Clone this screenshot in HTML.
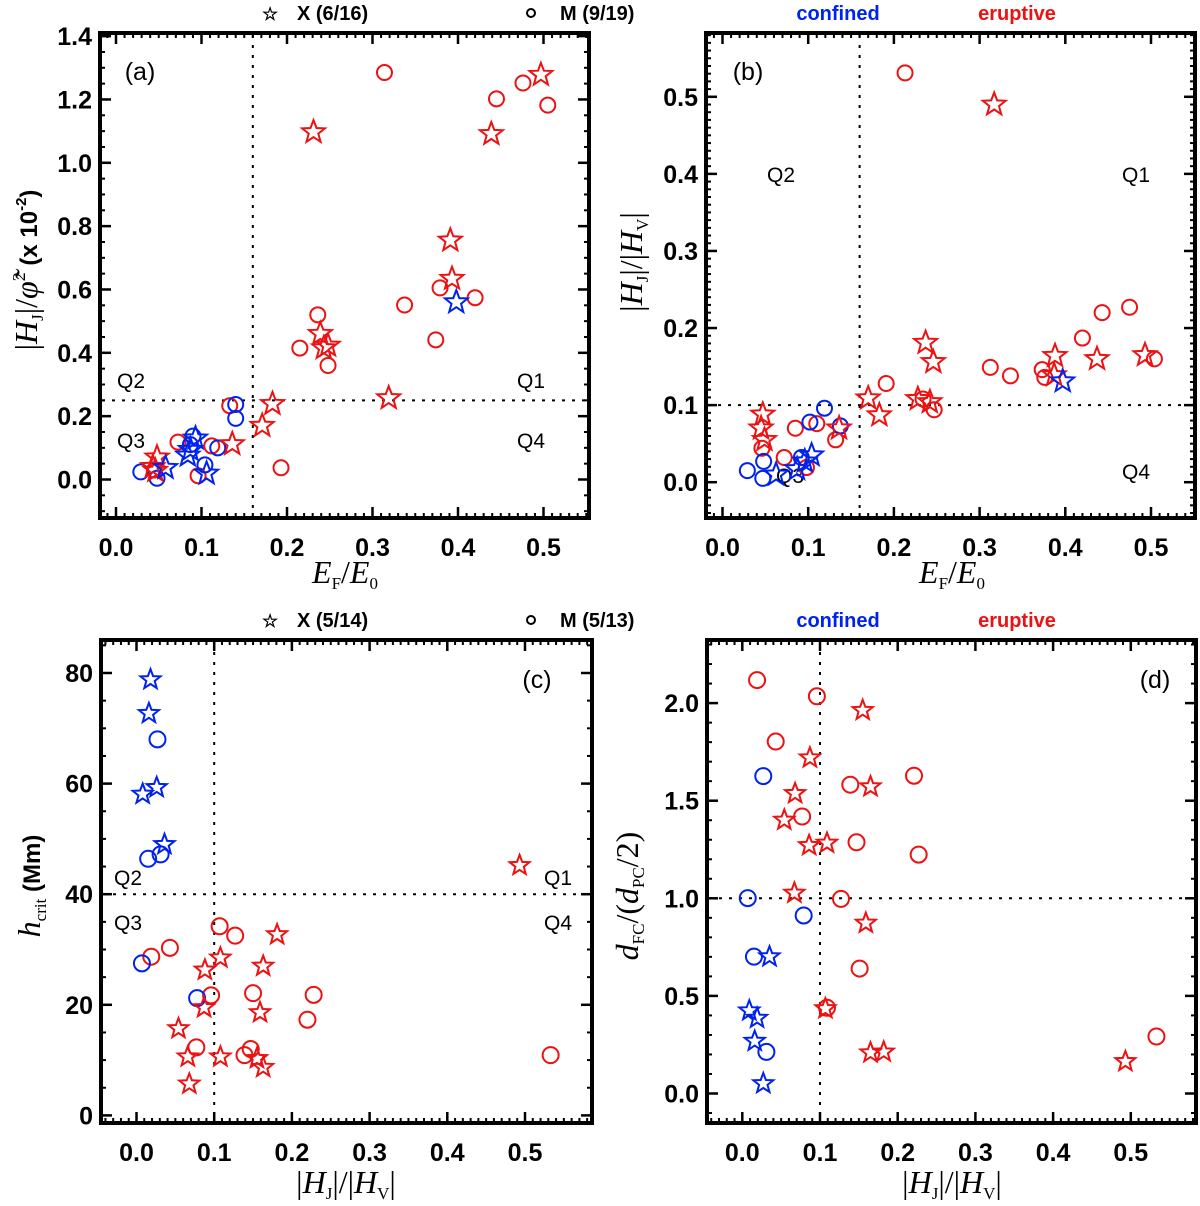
<!DOCTYPE html>
<html><head><meta charset="utf-8"><style>
html,body{margin:0;padding:0;background:#fff;}
svg{display:block;font-family:"Liberation Sans",sans-serif;}
</style></head><body>
<svg id="fig" width="1200" height="1206" viewBox="0 0 1200 1206" xmlns="http://www.w3.org/2000/svg">
<g font-weight="bold" font-size="20">
 <text x="262" y="20" font-size="18">☆</text>
 <text x="297" y="20">X (6/16)</text>
 <circle cx="531" cy="13" r="4" fill="none" stroke="#000" stroke-width="2"/>
 <text x="560" y="20">M (9/19)</text>
 <text x="838" y="20" fill="#0022ee" text-anchor="middle">confined</text>
 <text x="1017" y="20" fill="#ee1111" text-anchor="middle">eruptive</text>
</g>
<g font-weight="bold" font-size="20">
 <text x="262" y="627" font-size="18">☆</text>
 <text x="297" y="627">X (5/14)</text>
 <circle cx="531" cy="620" r="4" fill="none" stroke="#000" stroke-width="2"/>
 <text x="560" y="627">M (5/13)</text>
 <text x="838" y="627" fill="#0022ee" text-anchor="middle">confined</text>
 <text x="1017" y="627" fill="#ee1111" text-anchor="middle">eruptive</text>
</g>
</svg>
<script>
// ---------- Panel (a) data: x = E_F/E0, y = |HJ|/phi^2 (x1e-2)
const aRedCircX=[0.314,0.445,0.476,0.505,0.42,0.379,0.3375,0.374,0.236,0.215,0.248,0.193,0.133,0.112,0.0725,0.096,0.045];
const aRedCircY=[1.285,1.202,1.252,1.182,0.574,0.605,0.551,0.441,0.52,0.415,0.36,0.037,0.233,0.106,0.118,0.012,0.03];
const aRedStarX=[0.231,0.439,0.497,0.391,0.393,0.319,0.239,0.243,0.248,0.183,0.171,0.136,0.048,0.043,0.046];
const aRedStarY=[1.097,1.091,1.278,0.755,0.634,0.257,0.46,0.415,0.423,0.239,0.17,0.112,0.07,0.04,0.028];
const aBlueStarX=[0.398,0.093,0.087,0.084,0.106,0.058];
const aBlueStarY=[0.56,0.13,0.094,0.076,0.019,0.037];
const aBlueCircX=[0.14,0.14,0.119,0.104,0.029,0.048,0.09,0.087];
const aBlueCircY=[0.237,0.193,0.1,0.046,0.024,0.004,0.137,0.11];
// ---------- Panel (b) data: x = E_F/E0, y = |HJ|/|HV|
const bRedCircX=[0.213,0.475,0.443,0.42,0.3125,0.336,0.373,0.376,0.504,0.191,0.247,0.234,0.085,0.11,0.132,0.046,0.072,0.098];
const bRedCircY=[0.531,0.227,0.22,0.187,0.149,0.138,0.146,0.136,0.16,0.128,0.094,0.108,0.07,0.076,0.055,0.044,0.032,0.019];
const bRedStarX=[0.317,0.237,0.246,0.388,0.437,0.493,0.387,0.17,0.183,0.228,0.242,0.047,0.045,0.049,0.136];
const bRedStarY=[0.49,0.181,0.156,0.164,0.16,0.165,0.139,0.109,0.087,0.108,0.104,0.088,0.07,0.055,0.07];
const bBlueStarX=[0.397,0.104,0.096,0.087,0.0625];
const bBlueStarY=[0.131,0.035,0.027,0.017,0.01];
const bBlueCircX=[0.119,0.102,0.1375,0.092,0.048,0.029,0.047];
const bBlueCircY=[0.096,0.078,0.073,0.032,0.027,0.015,0.005];
// ---------- Panel (c) data: x = |HJ|/|HV|, y = h_crit (Mm)
const cBlueStarX=[0.018,0.016,0.008,0.026,0.036];
const cBlueStarY=[78.8,72.7,58.1,59.3,49.0];
const cBlueCircX=[0.027,0.015,0.031,0.007,0.078];
const cBlueCircY=[68.0,46.4,47.2,27.5,21.2];
const cRedStarX=[0.493,0.181,0.108,0.088,0.163,0.087,0.159,0.054,0.066,0.108,0.155,0.163,0.068];
const cRedStarY=[45.2,32.7,28.5,26.3,27.0,19.5,18.6,15.7,10.6,10.6,10.3,8.7,5.7];
const cRedCircX=[0.107,0.127,0.043,0.019,0.096,0.15,0.228,0.22,0.077,0.139,0.147,0.533];
const cRedCircY=[34.2,32.5,30.3,28.7,21.7,22.1,21.8,17.3,12.3,10.9,12.0,10.9];
// ---------- Panel (d) data: x = |HJ|/|HV|, y = d_FC/(d_PC/2)
const dRedCircX=[0.019,0.096,0.043,0.221,0.139,0.077,0.147,0.227,0.127,0.151,0.109,0.533];
const dRedCircY=[2.118,2.035,1.803,1.628,1.582,1.419,1.287,1.224,0.997,0.64,0.439,0.292];
const dRedStarX=[0.155,0.087,0.165,0.068,0.054,0.086,0.109,0.067,0.159,0.107,0.165,0.182,0.493];
const dRedStarY=[1.963,1.72,1.572,1.537,1.401,1.271,1.283,1.027,0.873,0.435,0.209,0.213,0.164];
const dBlueCircX=[0.007,0.027,0.079,0.015,0.031];
const dBlueCircY=[1.001,1.626,0.912,0.701,0.213];
const dBlueStarX=[0.035,0.009,0.019,0.016,0.027];
const dBlueStarY=[0.701,0.424,0.386,0.268,0.051];
// tick labels
const xTicksTop=[0.0,0.1,0.2,0.3,0.4,0.5];
const yTicksA=[0.0,0.2,0.4,0.6,0.8,1.0,1.2,1.4];
const yTicksB=[0.0,0.1,0.2,0.3,0.4,0.5];
const xTicksBot=[0.0,0.1,0.2,0.3,0.4,0.5];
const yTicksC=[0,20,40,60,80];
const yTicksD=[0.0,0.5,1.0,1.5,2.0];

const NS="http://www.w3.org/2000/svg";
const svg=document.getElementById('fig');
const RED="#ee1111", BLUE="#0022ee";
function mk(tag,attrs,parent){const e=document.createElementNS(NS,tag);for(const k in attrs)e.setAttribute(k,attrs[k]);(parent||svg).appendChild(e);return e;}
function starPts(cx,cy,R){const r=R*0.42;let p=[];for(let i=0;i<10;i++){const a=-Math.PI/2+i*Math.PI/5;const rr=i%2?r:R;p.push((cx+rr*Math.cos(a)).toFixed(1)+","+(cy+rr*Math.sin(a)).toFixed(1));}return p.join(" ");}

function panel(P){
  const g=mk('g',{});
  
  
  const X=v=>P.x0+v*P.xs, Y=v=>P.y0-v*P.ys;
  // minor ticks
  const minor=(vals,isX)=>{vals.forEach(v=>{const p=isX?X(v):Y(v);
    if(isX){if(p<P.L+2||p>P.R-2)return;mk('line',{x1:p,x2:p,y1:P.B,y2:P.B-5,stroke:'#000','stroke-width':2},g);mk('line',{x1:p,x2:p,y1:P.T,y2:P.T+5,stroke:'#000','stroke-width':2},g);}
    else{if(p<P.T+2||p>P.B-2)return;mk('line',{x1:P.L,x2:P.L+5,y1:p,y2:p,stroke:'#000','stroke-width':2},g);mk('line',{x1:P.R,x2:P.R-5,y1:p,y2:p,stroke:'#000','stroke-width':2},g);}
  });};
  let mx=[];for(let v=-0.1;v<=0.6001;v+=0.01)mx.push(+v.toFixed(3));minor(mx,true);
  let my=[];for(let v=P.ymin;v<=P.ymax+1e-9;v+=P.ymStep)my.push(+v.toFixed(4));minor(my,false);
  // major ticks + labels
  P.xt.forEach(v=>{const p=X(v);
    mk('line',{x1:p,x2:p,y1:P.B,y2:P.B-11,stroke:'#000','stroke-width':2.5},g);
    mk('line',{x1:p,x2:p,y1:P.T,y2:P.T+11,stroke:'#000','stroke-width':2.5},g);
    const t=mk('text',{x:p,y:P.B+38,'text-anchor':'middle','font-size':25,'font-weight':'bold'},g);
    
    
    t.textContent=v.toFixed(1);});
  P.yt.forEach(v=>{const p=Y(v);
    mk('line',{x1:P.L,x2:P.L+11,y1:p,y2:p,stroke:'#000','stroke-width':2.5},g);
    mk('line',{x1:P.R,x2:P.R-11,y1:p,y2:p,stroke:'#000','stroke-width':2.5},g);
    const t=mk('text',{x:P.L-8,y:p+9,'text-anchor':'end','font-size':25,'font-weight':'bold'},g);
    
    
    t.textContent=P.yfmt(v);});
  // frame
  const fr=mk('rect',{x:P.L,y:P.T,width:P.R-P.L,height:P.B-P.T,fill:'none',stroke:'#000','stroke-width':4},g);
  
  
  // threshold lines
  const vl=mk('line',{x1:X(P.vx),x2:X(P.vx),y1:P.T+2,y2:P.B-2,stroke:'#000','stroke-width':2,'stroke-dasharray':'3 7'},g);
  
  
  const hl=mk('line',{x1:P.L+2,x2:P.R-2,y1:Y(P.hy),y2:Y(P.hy),stroke:'#000','stroke-width':2,'stroke-dasharray':'3 7'},g);
  
  
  // labels
  P.texts.forEach(q=>{const t=mk('text',{x:q[1],y:q[2],'font-size':q[3]||21,'text-anchor':'middle'},g);
    
    
    t.textContent=q[0];});
  // points
  P.series.forEach(s=>{s.xs.forEach((xv,i)=>{const cx=X(xv),cy=Y(s.ys[i]);let e;
    if(s.star){e=mk('polygon',{points:starPts(cx,cy,P.sr),fill:'none',stroke:s.c,'stroke-width':2,'stroke-linejoin':'miter'},g);}
    else{e=mk('circle',{cx:cx,cy:cy,r:P.cr,fill:'none',stroke:s.c,'stroke-width':2},g);}
    
    
  });});
  return g;
}
const f1=v=>v.toFixed(1), f0=v=>String(v);
panel({name:'panel-a',L:100,R:589,T:33,B:518,x0:116,xs:855,y0:479.5,ys:316.7,ymin:-0.1,ymax:1.45,ymStep:0.05,
  xt:xTicksTop,yt:yTicksA,yfmt:f1,vx:0.16,hy:0.25,sr:12,cr:7.5,
  texts:[['(a)',140,80,25,'panel-label'],['Q2',131,388],['Q1',531,388],['Q3',131,448],['Q4',531,448]],
  series:[{xs:aRedCircX,ys:aRedCircY,c:RED,n:'eruptive-m-point'},{xs:aBlueCircX,ys:aBlueCircY,c:BLUE,n:'confined-m-point'},
          {xs:aRedStarX,ys:aRedStarY,c:RED,star:1,n:'eruptive-x-point'},{xs:aBlueStarX,ys:aBlueStarY,c:BLUE,star:1,n:'confined-x-point'}]});
panel({name:'panel-b',L:706,R:1195,T:33,B:518,x0:722.5,xs:857,y0:482.2,ys:770.8,ymin:-0.05,ymax:0.6,ymStep:0.01,
  xt:xTicksTop,yt:yTicksB,yfmt:f1,vx:0.16,hy:0.1,sr:12,cr:7.5,
  texts:[['(b)',748,80,25,'panel-label'],['Q2',781,182],['Q1',1136,182],['Q4',1136,479],['Q3',790,483]],
  series:[{xs:bRedCircX,ys:bRedCircY,c:RED,n:'eruptive-m-point'},{xs:bBlueCircX,ys:bBlueCircY,c:BLUE,n:'confined-m-point'},
          {xs:bRedStarX,ys:bRedStarY,c:RED,star:1,n:'eruptive-x-point'},{xs:bBlueStarX,ys:bBlueStarY,c:BLUE,star:1,n:'confined-x-point'}]});
panel({name:'panel-c',L:101,R:592,T:640,B:1123,x0:136.5,xs:777,y0:1115.4,ys:5.53,ymin:-5,ymax:90,ymStep:5,
  xt:xTicksBot,yt:yTicksC,yfmt:f0,vx:0.1,hy:40,sr:10.5,cr:8,
  texts:[['(c)',537,688,25,'panel-label'],['Q2',128,885],['Q1',558,885],['Q3',128,930],['Q4',558,930]],
  series:[{xs:cRedCircX,ys:cRedCircY,c:RED,n:'eruptive-m-point'},{xs:cBlueCircX,ys:cBlueCircY,c:BLUE,n:'confined-m-point'},
          {xs:cRedStarX,ys:cRedStarY,c:RED,star:1,n:'eruptive-x-point'},{xs:cBlueStarX,ys:cBlueStarY,c:BLUE,star:1,n:'confined-x-point'}]});
panel({name:'panel-d',L:707,R:1196,T:640,B:1123,x0:742.3,xs:777,y0:1093.5,ys:195.2,ymin:-0.2,ymax:2.4,ymStep:0.1,
  xt:xTicksBot,yt:yTicksD,yfmt:f1,vx:0.1,hy:1.0,sr:10.5,cr:8,
  texts:[['(d)',1155,688,25,'panel-label']],
  series:[{xs:dRedCircX,ys:dRedCircY,c:RED,n:'eruptive-m-point'},{xs:dBlueCircX,ys:dBlueCircY,c:BLUE,n:'confined-m-point'},
          {xs:dRedStarX,ys:dRedStarY,c:RED,star:1,n:'eruptive-x-point'},{xs:dBlueStarX,ys:dBlueStarY,c:BLUE,star:1,n:'confined-x-point'}]});
</script>
<svg width="0" height="0" style="position:absolute"></svg>
<script>
// axis titles
(function(){
const NS="http://www.w3.org/2000/svg";const svg=document.getElementById('fig');
const add=(html,attrs,name)=>{const t=document.createElementNS(NS,'text');for(const k in attrs)t.setAttribute(k,attrs[k]);t.innerHTML=html;
 
 
 svg.appendChild(t);};
const serif='font-family="Liberation Serif,serif"';
add('<tspan font-style="italic">E</tspan><tspan font-size="17" dy="6">F</tspan><tspan dy="-6">/</tspan><tspan font-style="italic">E</tspan><tspan font-size="17" dy="6">0</tspan>',
 {x:345,y:583,'text-anchor':'middle','font-size':32,'font-family':'Liberation Serif,serif'},'x-axis-title-a');
add('<tspan font-style="italic">E</tspan><tspan font-size="17" dy="6">F</tspan><tspan dy="-6">/</tspan><tspan font-style="italic">E</tspan><tspan font-size="17" dy="6">0</tspan>',
 {x:952,y:583,'text-anchor':'middle','font-size':32,'font-family':'Liberation Serif,serif'},'x-axis-title-b');
const hjhv='|<tspan font-style="italic">H</tspan><tspan font-size="17" dy="6">J</tspan><tspan dy="-6">|/|</tspan><tspan font-style="italic">H</tspan><tspan font-size="17" dy="6">V</tspan><tspan dy="-6">|</tspan>';
add(hjhv,{x:346,y:1193,'text-anchor':'middle','font-size':32,'font-family':'Liberation Serif,serif'},'x-axis-title-c');
add(hjhv,{x:952,y:1193,'text-anchor':'middle','font-size':32,'font-family':'Liberation Serif,serif'},'x-axis-title-d');
add(hjhv,{x:0,y:0,'text-anchor':'middle','font-size':32,'font-family':'Liberation Serif,serif',transform:'translate(642,262) rotate(-90)'},'y-axis-title-b');
add('|<tspan font-style="italic">H</tspan><tspan font-size="17" dy="6">J</tspan><tspan dy="-6">|/</tspan><tspan font-style="italic">φ̃</tspan><tspan font-size="18" dy="-12">2</tspan><tspan dy="12" font-family="Liberation Sans,sans-serif" font-weight="bold" font-size="24"> (x 10</tspan><tspan font-family="Liberation Sans,sans-serif" font-weight="bold" font-size="15" dy="-11">-2</tspan><tspan font-family="Liberation Sans,sans-serif" font-weight="bold" font-size="24" dy="11">)</tspan>',
 {x:0,y:0,'text-anchor':'middle','font-size':32,'font-family':'Liberation Serif,serif',transform:'translate(37,270) rotate(-90)'},'y-axis-title-a');
add('<tspan font-style="italic">h</tspan><tspan font-size="17" dy="6">crit</tspan><tspan dy="-6" font-family="Liberation Sans,sans-serif" font-weight="bold" font-size="24"> (Mm)</tspan>',
 {x:0,y:0,'text-anchor':'middle','font-size':32,'font-family':'Liberation Serif,serif',transform:'translate(40,886) rotate(-90)'},'y-axis-title-c');
add('<tspan font-style="italic">d</tspan><tspan font-size="17" dy="6">FC</tspan><tspan dy="-6">/(</tspan><tspan font-style="italic">d</tspan><tspan font-size="17" dy="6">PC</tspan><tspan dy="-6">/2)</tspan>',
 {x:0,y:0,'text-anchor':'middle','font-size':32,'font-family':'Liberation Serif,serif',transform:'translate(638,896) rotate(-90)'},'y-axis-title-d');
})();
</script>
</body></html>
